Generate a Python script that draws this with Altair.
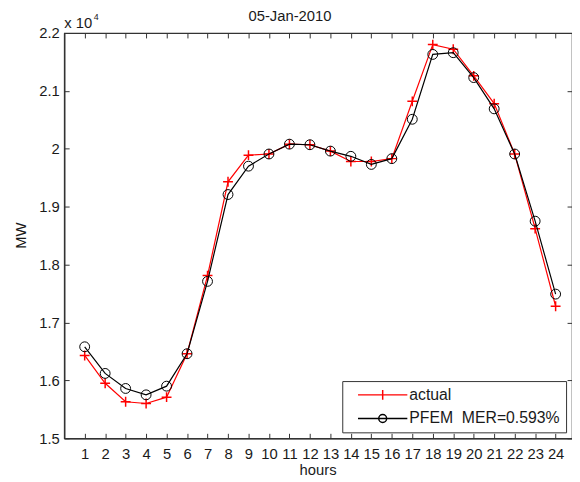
import altair as alt
import pandas as pd

# ---- data ----
hours = list(range(1, 25))
actual = [16430, 15950, 15630, 15600, 15710, 16460, 17810, 19430, 19890, 19910,
          20080, 20070, 19960, 19780, 19780, 19830, 20820, 21800, 21720, 21260,
          20780, 19910, 18620, 17280]
pfem = [16580, 16120, 15860, 15750, 15900, 16460, 17710, 19210, 19700, 19910,
        20080, 20070, 19960, 19870, 19730, 19830, 20510, 21630, 21660, 21230,
        20690, 19910, 18750, 17490]
series_names = ["actual", "PFEM\u00a0\u00a0MER=0.593%"]
y_ticks = [15000, 16000, 17000, 18000, 19000, 20000, 21000, 22000]
title_text = "05-Jan-2010"

rows = []
for h, a, p in zip(hours, actual, pfem):
    rows.append({"hour": h, "MW": a, "series": series_names[0]})
    rows.append({"hour": h, "MW": p, "series": series_names[1]})
df = pd.DataFrame(rows)

# ---- style ----
W, H = 515, 411
FONT = "Liberation Sans"
RED = "#ff0000"
BLACK = "#000000"
AX = "#333333"
TXT = "#1a1a1a"

xs = alt.Scale(domain=[0, 24.8], nice=False, zero=False)
ys = alt.Scale(domain=[15000, 22000], nice=False, zero=False)

plus_path = "M-1,0H1M0,-1V1"
leg_plus = "M-5,0H5M0,-1V1"
leg_circle = "M-5,0H5M-0.8,0A0.8,0.8 0 1,1 0.8,0A0.8,0.8 0 1,1 -0.8,0"

base = alt.Chart(df)

# layer 1: actual line + main axes (labels, titles)
x_main = alt.X("hour:Q", scale=xs, axis=alt.Axis(
    orient="bottom", values=hours, ticks=False, tickSize=0, grid=False,
    labelPadding=9, labelFontSize=15, labelFont=FONT, labelColor=TXT,
    labelOverlap=False, labelFlush=False,
    domainColor=AX, domainWidth=1.5,
    title="hours", titleFont=FONT, titleFontSize=15, titleFontWeight="normal",
    titleColor=TXT, titleX=257, titleY=37, titleBaseline="alphabetic",
    titleAlign="center"))
y_main = alt.Y("MW:Q", scale=ys, axis=alt.Axis(
    orient="left", values=y_ticks, ticks=False, tickSize=0, grid=False,
    labelExpr="datum.value / 10000", labelPadding=5, labelFontSize=15,
    labelFont=FONT, labelColor=TXT, labelOverlap=False, labelFlush=False,
    domainColor=AX, domainWidth=1.5,
    title="MW", titleFont=FONT, titleFontSize=15, titleFontWeight="normal",
    titleColor=TXT, titleAngle=270, titleX=-39, titleY=205,
    titleBaseline="alphabetic", titleAlign="center"))

l_actual_line = base.transform_filter(alt.datum.series == series_names[0]).mark_line(
    color=RED, strokeWidth=1.2).encode(x=x_main, y=y_main)

# layer 2: actual markers + inward ticks (bottom & left)
x_t1 = alt.X("hour:Q", scale=xs, axis=alt.Axis(
    orient="top", offset=-H, values=hours, ticks=True, tickSize=5,
    tickColor=AX, tickWidth=1, labels=False, domain=False, grid=False, title=None))
y_t1 = alt.Y("MW:Q", scale=ys, axis=alt.Axis(
    orient="right", offset=-W, values=y_ticks, ticks=True, tickSize=5,
    tickColor=AX, tickWidth=1, labels=False, domain=False, grid=False, title=None))
l_actual_pts = base.transform_filter(alt.datum.series == series_names[0]).mark_point(
    shape=plus_path, size=100, filled=False, strokeWidth=1.5, color=RED,
    opacity=1).encode(x=x_t1, y=y_t1)

# layer 3: PFEM line + inward ticks (top & right)
x_t2 = alt.X("hour:Q", scale=xs, axis=alt.Axis(
    orient="bottom", offset=-H, values=hours, ticks=True, tickSize=5,
    tickColor=AX, tickWidth=1, labels=False, domain=False, grid=False, title=None))
y_t2 = alt.Y("MW:Q", scale=ys, axis=alt.Axis(
    orient="left", offset=-W, values=y_ticks, ticks=True, tickSize=5,
    tickColor=AX, tickWidth=1, labels=False, domain=False, grid=False, title=None))
l_pfem_line = base.transform_filter(alt.datum.series == series_names[1]).mark_line(
    color=BLACK, strokeWidth=1.2).encode(x=x_t2, y=y_t2)

# layer 4: PFEM markers
l_pfem_pts = base.transform_filter(alt.datum.series == series_names[1]).mark_point(
    shape="circle", size=100, filled=False, strokeWidth=1, color=BLACK,
    opacity=1).encode(
    x=alt.X("hour:Q", scale=xs, axis=None),
    y=alt.Y("MW:Q", scale=ys, axis=None))

# layer 5: legend only (no marks drawn)
leg = alt.Legend(
    orient="none", legendX=282, legendY=353, title=None,
    labelFont=FONT, labelFontSize=16, labelColor=TXT, labelLimit=400,
    symbolSize=100, symbolStrokeWidth=1.5, symbolOffset=27, labelOffset=19,
    padding=6, rowPadding=8, strokeColor=AX, fillColor="white",
    cornerRadius=0, symbolOpacity=1)
l_legend = base.transform_filter("datum.hour < 0").mark_point(
    filled=False, opacity=1).encode(
    color=alt.Color("series:N", scale=alt.Scale(domain=series_names, range=[RED, BLACK]),
                    legend=leg),
    shape=alt.Shape("series:N", scale=alt.Scale(domain=series_names,
                                                range=[leg_plus, leg_circle]),
                    legend=leg))

# text annotations
one = alt.Data(values=[{}])
t_title = alt.Chart(one).mark_text(
    text=title_text, font=FONT, fontSize=15, color=TXT, align="center",
    baseline="alphabetic").encode(x=alt.value(229), y=alt.value(-12))
t_x10 = alt.Chart(one).mark_text(
    text="x 10", font=FONT, fontSize=15, color=TXT, align="left",
    baseline="alphabetic").encode(x=alt.value(0), y=alt.value(-5))
t_exp = alt.Chart(one).mark_text(
    text="4", font=FONT, fontSize=9, color=TXT, align="left",
    baseline="alphabetic").encode(x=alt.value(30), y=alt.value(-13))

chart = alt.layer(
    l_actual_line, l_actual_pts, l_pfem_line, l_pfem_pts, l_legend,
    t_title, t_x10, t_exp
).resolve_axis(x="independent", y="independent").properties(
    width=W, height=H,
    autosize=alt.AutoSizeParams(type="none"),
    padding={"left": 57, "top": 22, "right": 0, "bottom": 41},
    background="white",
).configure_view(stroke=AX, strokeWidth=1.2)

chart.save("out.html", embed_options={"renderer": "svg", "actions": False})
